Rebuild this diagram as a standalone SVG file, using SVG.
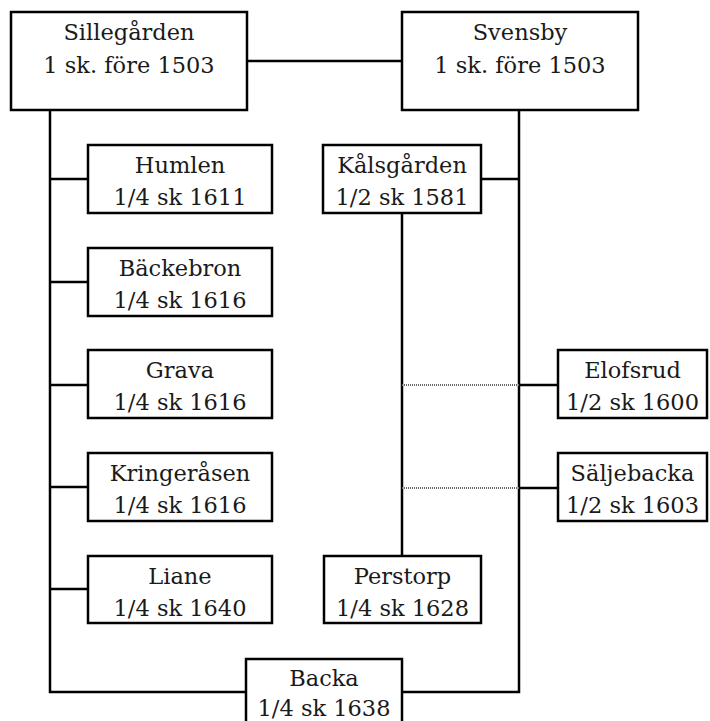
<svg xmlns="http://www.w3.org/2000/svg" width="710" height="721" viewBox="0 0 710 721">
<style>
.box{fill:#fff;stroke:#000;stroke-width:2.5}
.t{font-family:"DejaVu Serif",serif;font-size:22.5px;fill:#1a1a1a;text-anchor:middle}
.c{stroke:#000;stroke-width:2.5;fill:none}
.d{stroke:#666;stroke-width:2;stroke-dasharray:1 1;fill:none}
</style>
<rect width="710" height="721" fill="#fff"/>
<g id="connectors">
<line class="c" x1="247" y1="61" x2="402" y2="61"/>
<polyline class="c" points="50,110 50,692 246,692"/>
<polyline class="c" points="519,110 519,692 402,692"/>
<line class="c" x1="50" y1="179" x2="88" y2="179"/>
<line class="c" x1="50" y1="282" x2="88" y2="282"/>
<line class="c" x1="50" y1="385" x2="88" y2="385"/>
<line class="c" x1="50" y1="487" x2="88" y2="487"/>
<line class="c" x1="50" y1="589" x2="88" y2="589"/>
<line class="c" x1="481" y1="179" x2="519" y2="179"/>
<line class="c" x1="402" y1="213" x2="402" y2="556"/>
<line class="c" x1="519" y1="385" x2="558" y2="385"/>
<line class="c" x1="519" y1="488" x2="558" y2="488"/>
<line class="d" x1="402" y1="385" x2="519" y2="385"/>
<line class="d" x1="402" y1="488" x2="519" y2="488"/>
</g>
<g id="sillegarden"><rect class="box" x="11" y="12" width="236" height="98"/><text class="t" x="129" y="40">Sillegården</text><text class="t" x="129" y="73">1 sk. före 1503</text></g>
<g id="svensby"><rect class="box" x="402" y="12" width="236" height="98"/><text class="t" x="520" y="40">Svensby</text><text class="t" x="520" y="73">1 sk. före 1503</text></g>
<g id="humlen"><rect class="box" x="88" y="145" width="184" height="68"/><text class="t" x="180" y="173">Humlen</text><text class="t" x="180" y="205">1/4 sk 1611</text></g>
<g id="backebron"><rect class="box" x="88" y="248" width="184" height="68"/><text class="t" x="180" y="276">Bäckebron</text><text class="t" x="180" y="308">1/4 sk 1616</text></g>
<g id="grava"><rect class="box" x="88" y="350" width="184" height="68"/><text class="t" x="180" y="378">Grava</text><text class="t" x="180" y="410">1/4 sk 1616</text></g>
<g id="kringerasen"><rect class="box" x="88" y="453" width="184" height="68"/><text class="t" x="180" y="481">Kringeråsen</text><text class="t" x="180" y="513">1/4 sk 1616</text></g>
<g id="liane"><rect class="box" x="88" y="556" width="184" height="67"/><text class="t" x="180" y="584">Liane</text><text class="t" x="180" y="616">1/4 sk 1640</text></g>
<g id="kalsgarden"><rect class="box" x="323" y="145" width="158" height="68"/><text class="t" x="402" y="173">Kålsgården</text><text class="t" x="402" y="205">1/2 sk 1581</text></g>
<g id="perstorp"><rect class="box" x="324" y="556" width="157" height="67"/><text class="t" x="402.5" y="584">Perstorp</text><text class="t" x="402.5" y="616">1/4 sk 1628</text></g>
<g id="elofsrud"><rect class="box" x="558" y="350" width="149" height="68"/><text class="t" x="632.5" y="378">Elofsrud</text><text class="t" x="632.5" y="410">1/2 sk 1600</text></g>
<g id="saljebacka"><rect class="box" x="558" y="453" width="149" height="68"/><text class="t" x="632.5" y="481">Säljebacka</text><text class="t" x="632.5" y="513">1/2 sk 1603</text></g>
<g id="backa"><rect class="box" x="246" y="659" width="156" height="80"/><text class="t" x="324" y="686">Backa</text><text class="t" x="324" y="716">1/4 sk 1638</text></g>
</svg>
